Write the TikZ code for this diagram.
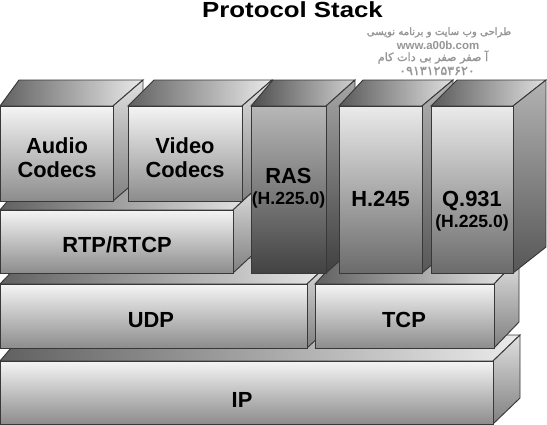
\documentclass[tikz,border=0pt]{standalone}
\usepackage{fontspec}
\setmainfont{Liberation Sans}
\newfontfamily\farsifont[Script=Arabic, FakeBold=1.5]{DejaVu Sans}
\TeXXeTstate=1
\usepackage{graphicx}
\usetikzlibrary{positioning}
\definecolor{edgegray}{RGB}{56,56,56}
\definecolor{markgray}{RGB}{150,150,150}

\tikzset{
  edge/.style={draw=edgegray, line width=0.7pt},
  slab front/.style={top color=black!4, bottom color=black!45},
  slab top/.style={left color=black!62, right color=black!8},
  slab side/.style={top color=black!12, bottom color=black!50},
  tall front/.style={top color=black!8, bottom color=black!58},
  tall top/.style={left color=black!65, right color=black!12},
  tall side/.style={top color=black!30, bottom color=black!66},
  ras front/.style={top color=black!28, bottom color=black!74},
  ras top/.style={left color=black!70, right color=black!18},
  ras side/.style={top color=black!35, bottom color=black!75},
  lbl/.style={font=\fontsize{16.4}{18}\selectfont\bfseries, align=center, inner sep=0pt},
  wmark/.style={text=markgray, inner sep=0pt, anchor=base},
}
\newcommand{\subfont}{\fontsize{13.2}{15}\selectfont}

% front rectangle (x1,y1)-(x2,y2), back offsets left/right, kind
\newcommand{\stackbox}[7]{%
  \draw[edge,#7 top] (#1,#2) -- ({#1+#5},{#2-26}) -- ({#3+#6},{#2-26}) -- (#3,#2) -- cycle;
  \draw[edge,#7 side] (#3,#2) -- ({#3+#6},{#2-26}) -- ({#3+#6},{#4-26}) -- (#3,#4) -- cycle;
  \draw[edge,#7 front] (#1,#2) rectangle (#3,#4);
}

\begin{document}
\begin{tikzpicture}[x=0.75pt, y=-0.75pt]
  \useasboundingbox[fill=white] (0,0) rectangle (547,425);
  % Title and watermark
  \node[lbl, anchor=base] (title) at (292.5,17) {\scalebox{1.18}[1]{Protocol Stack}};
  \node[wmark] (mark1) at (439,35) {\fontsize{7.6}{10}\farsifont\beginR طراحی وب سایت و برنامه نویسی\endR};
  \node[wmark, font=\fontsize{8.6}{10}\selectfont\bfseries] (mark2) at (438,49) {www.a00b.com};
  \node[wmark] (mark3) at (433,61) {\fontsize{8.4}{10}\farsifont\beginR آ صفر صفر بی دات کام\endR};
  \node[wmark] (mark4) at (437,75) {\fontsize{9.6}{10}\farsifont ۰۹۱۳۱۲۵۳۶۲۰};
  % Network layer
  \stackbox{0}{361}{493}{424}{22}{27}{slab}
  \node[lbl, anchor=base] (ip) at (242,407) {IP};
  % Transport layer
  \stackbox{0}{284}{307}{348}{25}{28}{slab}
  \stackbox{315}{284}{494}{348}{24}{25}{slab}
  \node[lbl, anchor=base] (udp) at (151,327) {UDP};
  \node[lbl, anchor=base] (tcp) at (404,327) {TCP};
  % Media transport
  \stackbox{0}{210}{233}{273}{22}{28}{slab}
  \node[lbl, anchor=base] (rtp) at (117,252) {RTP/RTCP};
  % Codecs
  \stackbox{0}{106}{113}{201}{19}{30}{slab}
  \stackbox{128}{106}{242}{201}{26}{30}{slab}
  \node[lbl] (audio) at (57,158) {Audio\\Codecs};
  \node[lbl] (video) at (185,158) {Video\\Codecs};
  % Signalling
  \stackbox{251}{106}{326}{273}{22}{29}{ras}
  \stackbox{339}{106}{422}{273}{24}{31}{tall}
  \stackbox{431}{106}{513}{273}{26}{33}{tall}
  \node[lbl] (ras) at (288.5,188.5) {RAS\\[-2pt]{\subfont (H.225.0)}};
  \node[lbl, anchor=base] (h245) at (380.5,206) {H.245};
  \node[lbl] (q931) at (472,211.5) {Q.931\\[-2pt]{\subfont (H.225.0)}};
\end{tikzpicture}
\end{document}
